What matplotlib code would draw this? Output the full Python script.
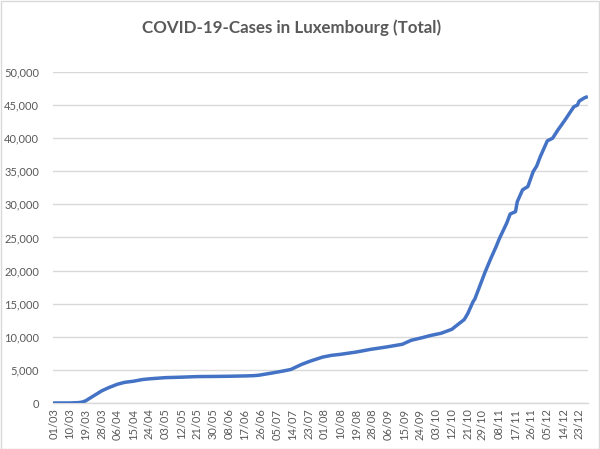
import matplotlib
matplotlib.use("Agg")
import matplotlib.pyplot as plt
from matplotlib.patches import Rectangle
import pandas as pd

# sample dates (2020) and cumulative cases
dates = ["01/03", "10/03", "15/03", "17/03", "19/03", "21/03", "25/03", "28/03",
         "01/04", "06/04", "10/04", "15/04", "20/04", "24/04", "03/05", "12/05",
         "21/05", "30/05", "08/06", "17/06", "22/06", "25/06", "03/07", "08/07",
         "13/07", "19/07", "24/07", "31/07", "05/08", "10/08", "19/08", "27/08",
         "05/09", "14/09", "19/09", "25/09", "30/09", "06/10", "12/10", "15/10",
         "19/10", "21/10", "24/10", "25/10", "28/10", "31/10", "03/11", "06/11",
         "08/11", "12/11", "14/11", "17/11", "18/11", "21/11", "24/11", "27/11",
         "29/11", "01/12", "05/12", "08/12", "11/12", "15/12", "20/12", "22/12",
         "23/12", "26/12", "27/12"]
cases = [0, 5, 60, 140, 335, 670, 1330, 1830,
         2320, 2840, 3120, 3290, 3540, 3650, 3830, 3900,
         3990, 4010, 4040, 4090, 4130, 4200, 4560, 4800,
         5065, 5825, 6330, 6940, 7200, 7350, 7700, 8100,
         8460, 8870, 9470, 9850, 10200, 10540, 11130, 11770,
         12600, 13500, 15300, 15700, 17800, 19900, 21800, 23600,
         24900, 27150, 28550, 28900, 30400, 32200, 32700, 34950,
         35800, 37200, 39600, 40000, 41250, 42750, 44750, 45000,
         45600, 46100, 46200]

tick_labels = ["01/03", "10/03", "19/03", "28/03", "06/04", "15/04", "24/04",
               "03/05", "12/05", "21/05", "30/05", "08/06", "17/06", "26/06",
               "05/07", "14/07", "23/07", "01/08", "10/08", "19/08", "28/08",
               "06/09", "15/09", "24/09", "03/10", "12/10", "21/10", "29/10",
               "08/11", "17/11", "26/11", "05/12", "14/12", "23/12"]
y_ticks = [0, 5000, 10000, 15000, 20000, 25000, 30000, 35000, 40000, 45000, 50000]

start = pd.Timestamp("2020-03-01")
def day_index(s):
    return (pd.to_datetime(s + "/2020", format="%d/%m/%Y") - start).days

x = [day_index(d) for d in dates]
tick_pos = [day_index(d) for d in tick_labels]

plt.rcParams['font.family'] = ['Lato', 'DejaVu Sans']
grey = "#595959"

fig = plt.figure(figsize=(6.0, 4.49), dpi=100)
ax = fig.add_axes([53/600, 1-403/449, (588-53)/600, (403-72)/449])

ax.plot(x, cases, color="#4472C4", linewidth=2.5, solid_joinstyle="round", zorder=3)

ax.set_ylim(0, 50000)
ax.set_xlim(-0.5, 302)
ax.set_yticks(y_ticks)
ax.set_yticklabels([f"{v:,}" for v in y_ticks])
ax.set_xticks(tick_pos)
ax.set_xticklabels(tick_labels, rotation=90)
ax.tick_params(axis="both", length=0, colors=grey, labelsize=8)
ax.tick_params(axis="y", pad=10)
ax.tick_params(axis="x", pad=4)
ax.grid(axis="y", color="#D9D9D9", linewidth=1)
ax.set_axisbelow(True)
for s in ["top", "right", "left"]:
    ax.spines[s].set_visible(False)
ax.spines["bottom"].set_color("#D9D9D9")
ax.spines["bottom"].set_linewidth(1)

fig.text(292/600, 1-28/449, "COVID-19-Cases in Luxembourg (Total)",
         ha="center", va="center", fontsize=12.2, fontweight="bold", color=grey)

fig.patches.append(Rectangle((0.001, 0.001), 0.997, 0.997, transform=fig.transFigure,
                             fill=False, edgecolor="#D9D9D9", linewidth=1))

fig.savefig("out.png", dpi=100, facecolor="white")
